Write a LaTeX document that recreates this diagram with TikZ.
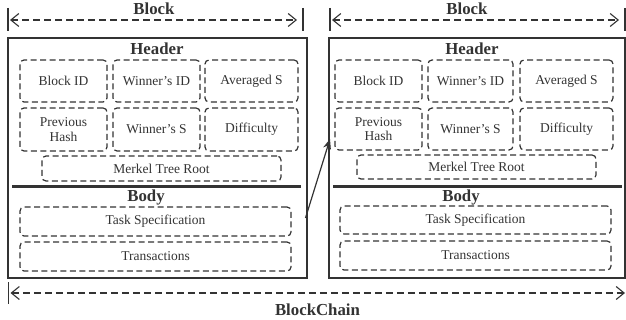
\documentclass[tikz,border=0pt]{standalone}
\usepackage{fontspec}
\setmainfont{Liberation Serif}
\usetikzlibrary{arrows.meta}
\definecolor{ink}{HTML}{333333}
\tikzset{
  outer/.style={draw=ink, line width=1.4pt, inner sep=0pt},
  field/.style={draw=ink, dash pattern=on 6pt off 3.5pt, line width=1.2pt, rounded corners=4pt,
    inner sep=0pt, font=\fontsize{13.5}{14.5}\selectfont, text=ink, align=center},
  ttl/.style={font=\fontsize{16.8}{18}\selectfont\bfseries, text=ink, inner sep=0pt},
  dimline/.style={draw=ink, dash pattern=on 7pt off 4pt, line width=1.1pt},
  barb/.tip={Straight Barb[length=8pt,width=13pt,line width=1.1pt]},
  dimbar/.style={draw=ink, line width=1.3pt},
  sep/.style={draw=ink, line width=3pt},
  link/.style={draw=ink, line width=1.2pt, -{Stealth[length=10pt,width=8pt]}}
}
\begin{document}
\begin{tikzpicture}[x=1pt,y=-1pt]
\useasboundingbox (0,0) rectangle (626,320);

% ---------- left block ----------
\node[outer, minimum width=299pt, minimum height=240pt] (LB) at (157.5,158) {};
\node[ttl] (LBk) at (154,8.5) {Block};
\node[ttl] (LHd) at (157,49) {Header};
\node[field, minimum width=87pt, minimum height=42pt] (LID) at (63.5,81) {Block ID};
\node[field, minimum width=87pt, minimum height=42pt] (LWID) at (156.5,81) {Winner's ID};
\node[field, minimum width=93pt, minimum height=42pt] (LAS) at (251.5,81) {Averaged S};
\node[field, minimum width=87pt, minimum height=43pt] (LPH) at (63.5,129.5) {Previous\\Hash};
\node[field, minimum width=87pt, minimum height=43pt] (LWS) at (156.5,129.5) {Winner's S};
\node[field, minimum width=93pt, minimum height=43pt] (LDF) at (251.5,129.5) {Difficulty};
\node[field, minimum width=239pt, minimum height=25pt] (LMR) at (161.5,168.5) {Merkel Tree Root};
\coordinate (LSa) at (12,187);
\coordinate (LSb) at (301,187);
\draw[sep] (LSa) -- (LSb);
\node[ttl] (LBd) at (146,197) {Body};
\node[field, minimum width=271pt, minimum height=29pt] (LTS) at (155.5,221.5) {Task Specification};
\node[field, minimum width=271pt, minimum height=29pt] (LTR) at (155.5,256.5) {Transactions};

% ---------- right block ----------
\node[outer, minimum width=296pt, minimum height=240pt] (RB) at (477,158) {};
\node[ttl] (RBk) at (467,8.5) {Block};
\node[ttl] (RHd) at (472,49) {Header};
\node[field, minimum width=87pt, minimum height=42pt] (RID) at (378.5,81) {Block ID};
\node[field, minimum width=85pt, minimum height=42pt] (RWID) at (470.5,81) {Winner's ID};
\node[field, minimum width=93pt, minimum height=42pt] (RAS) at (566.5,81) {Averaged S};
\node[field, minimum width=87pt, minimum height=42pt] (RPH) at (378.5,129) {Previous\\Hash};
\node[field, minimum width=85pt, minimum height=42pt] (RWS) at (470.5,129) {Winner's S};
\node[field, minimum width=93pt, minimum height=42pt] (RDF) at (566.5,129) {Difficulty};
\node[field, minimum width=239pt, minimum height=24pt] (RMR) at (476.5,167) {Merkel Tree Root};
\coordinate (RSa) at (333,187);
\coordinate (RSb) at (622,187);
\draw[sep] (RSa) -- (RSb);
\node[ttl] (RBd) at (461,197) {Body};
\node[field, minimum width=271pt, minimum height=28pt] (RTS) at (475.5,220) {Task Specification};
\node[field, minimum width=271pt, minimum height=29pt] (RTR) at (475.5,255.5) {Transactions};

% ---------- link between blocks ----------
\coordinate (aS) at (305.5,218);
\coordinate (aE) at (330,139);
\draw[link] (aS) -- (aE);

% ---------- dimension arrows ----------
\coordinate (LDa) at (10,20);
\coordinate (LDb) at (297,20);
\draw[dimbar] (8,8) -- (8,31);
\draw[dimbar] (303,8) -- (303,31);
\draw[dimline, barb-barb] (LDa) -- (LDb);

\coordinate (RDa) at (332,20);
\coordinate (RDb) at (619,20);
\draw[dimbar] (330,8) -- (330,31);
\draw[dimbar] (625,8) -- (625,31);
\draw[dimline, barb-barb] (RDa) -- (RDb);

\coordinate (BCa) at (10.5,293);
\coordinate (BCb) at (625,293);
\draw[dimbar] (8.5,282) -- (8.5,304);
\draw[dimline, barb-barb] (BCa) -- (BCb);
\node[ttl] (BC) at (317.5,310) {BlockChain};
\end{tikzpicture}
\end{document}
